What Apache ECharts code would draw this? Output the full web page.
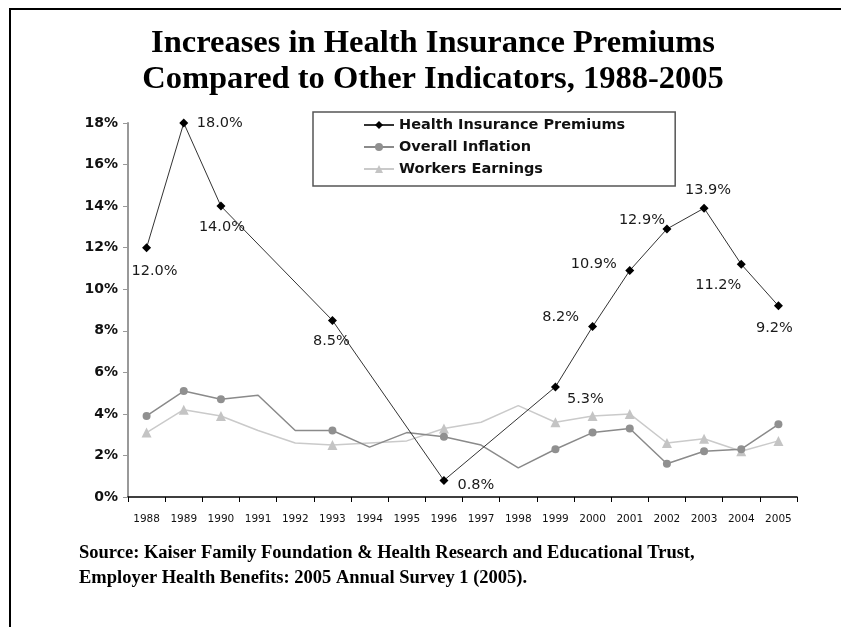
<!DOCTYPE html>
<html>
<head>
<meta charset="utf-8">
<script src="https://cdn.jsdelivr.net/npm/echarts@6/dist/echarts.min.js"></script>
<style>html,body{margin:0;padding:0;background:#fff}#c{width:841px;height:627px}</style>
</head>
<body>
<div id="c"></div>
<script>
var years = ['1988','1989','1990','1991','1992','1993','1994','1995','1996','1997','1998','1999','2000','2001','2002','2003','2004','2005'];
var healthPremiums = [12.0, 18.0, 14.0, null, null, 8.5, null, null, 0.8, null, null, 5.3, 8.2, 10.9, 12.9, 13.9, 11.2, 9.2];
var overallInflation = [3.9, 5.1, 4.7, 4.9, 3.2, 3.2, 2.4, 3.1, 2.9, 2.5, 1.4, 2.3, 3.1, 3.3, 1.6, 2.2, 2.3, 3.5];
var workersEarnings = [3.1, 4.2, 3.9, 3.2, 2.6, 2.5, 2.6, 2.7, 3.3, 3.6, 4.4, 3.6, 3.9, 4.0, 2.6, 2.8, 2.2, 2.7];
var markerYears = ['1988','1989','1990','1993','1996','1999','2000','2001','2002','2003','2004','2005'];
var seriesNames = ['Health Insurance Premiums', 'Overall Inflation', 'Workers Earnings'];
var yTicks = [0, 2, 4, 6, 8, 10, 12, 14, 16, 18];
var titleText = 'Increases in Health Insurance Premiums\nCompared to Other Indicators, 1988-2005';
var sourceText = 'Source: Kaiser Family Foundation & Health Research and Educational Trust,\nEmployer Health Benefits: 2005 Annual Survey 1 (2005).';

// label placement (offset of label centre from marker), per year
var labelOffsets = {
  '1988': [8, 24], '1989': [36, 0], '1990': [1, 21], '1993': [-1, 21],
  '1996': [32, 5], '1999': [30, 12], '2000': [-32, -9], '2001': [-36, -6],
  '2002': [-25, -9], '2003': [4, -18], '2004': [-23, 21], '2005': [-4, 22]
};

function markedData(values) {
  return values.map(function (v, i) {
    var shown = markerYears.indexOf(years[i]) >= 0;
    return shown ? { value: v } : { value: v, symbol: 'none' };
  });
}

var healthData = healthPremiums.map(function (v, i) {
  if (v === null) return null;
  var off = labelOffsets[years[i]] || [0, 0];
  return { value: v, label: { offset: off } };
});

var chart = echarts.init(document.getElementById('c'), null, { renderer: 'canvas' });
chart.setOption({
  animation: false,
  backgroundColor: '#fff',
  grid: { left: 128, right: 44, top: 123, bottom: 130, containLabel: false },
  legend: {
    data: seriesNames,
    orient: 'vertical',
    left: 313, top: 112,
    padding: [5, 50, 9, 50],
    itemGap: 6,
    itemWidth: 30, itemHeight: 10,
    borderColor: '#555', borderWidth: 1.5,
    textStyle: { fontFamily: 'DejaVu Sans', fontWeight: 'bold', fontSize: 14.5, color: '#111', lineHeight: 16 }
  },
  xAxis: {
    type: 'category', data: years, boundaryGap: true,
    axisLine: { lineStyle: { color: '#000', width: 1.5 } },
    axisTick: { show: true, length: 5, lineStyle: { color: '#000' } },
    axisLabel: { margin: 17, fontFamily: 'DejaVu Sans', fontSize: 10.5, color: '#111', interval: 0 }
  },
  yAxis: {
    type: 'value', min: 0, max: 18, interval: 2,
    splitLine: { show: false },
    axisLine: { show: true, lineStyle: { color: '#999', width: 2 } },
    axisTick: { show: true, length: 5, lineStyle: { color: '#999' } },
    axisLabel: { margin: 10, fontFamily: 'DejaVu Sans', fontWeight: 'bold', fontSize: 14, color: '#111',
      formatter: function (v) { return yTicks.indexOf(v) >= 0 ? v + '%' : ''; } }
  },
  series: [
    {
      name: seriesNames[2], type: 'line', data: markedData(workersEarnings), z: 2,
      symbol: 'triangle', symbolSize: 10,
      lineStyle: { color: '#cacaca', width: 1.5 },
      itemStyle: { color: '#c4c4c4' }
    },
    {
      name: seriesNames[1], type: 'line', data: markedData(overallInflation), z: 3,
      symbol: 'circle', symbolSize: 8,
      lineStyle: { color: '#8a8a8a', width: 1.5 },
      itemStyle: { color: '#909090' }
    },
    {
      name: seriesNames[0], type: 'line', data: healthData, connectNulls: true, z: 4,
      symbol: 'diamond', symbolSize: 9,
      lineStyle: { color: '#333', width: 1 },
      itemStyle: { color: '#000' },
      label: {
        show: true, position: 'inside', fontFamily: 'DejaVu Sans', fontSize: 14.5, color: '#1a1a1a',
        formatter: function (p) { return p.value.toFixed(1) + '%'; }
      }
    }
  ],
  graphic: [
    { type: 'line', shape: { x1: 10, y1: 9, x2: 10, y2: 627 }, style: { stroke: '#000', lineWidth: 2 } },
    { type: 'line', shape: { x1: 9, y1: 9, x2: 841, y2: 9 }, style: { stroke: '#000', lineWidth: 2 } },
    { type: 'text', x: 433, y: 62, style: { text: titleText, textAlign: 'center', textVerticalAlign: 'middle',
      fontFamily: 'Liberation Serif', fontWeight: 'bold', fontSize: 32.5, lineHeight: 36, fill: '#000' } },
    { type: 'text', x: 79, y: 566, style: { text: sourceText, textAlign: 'left', textVerticalAlign: 'middle',
      fontFamily: 'Liberation Serif', fontWeight: 'bold', fontSize: 18.5, lineHeight: 25, fill: '#000' } }
  ]
});
</script>
</body>
</html>
